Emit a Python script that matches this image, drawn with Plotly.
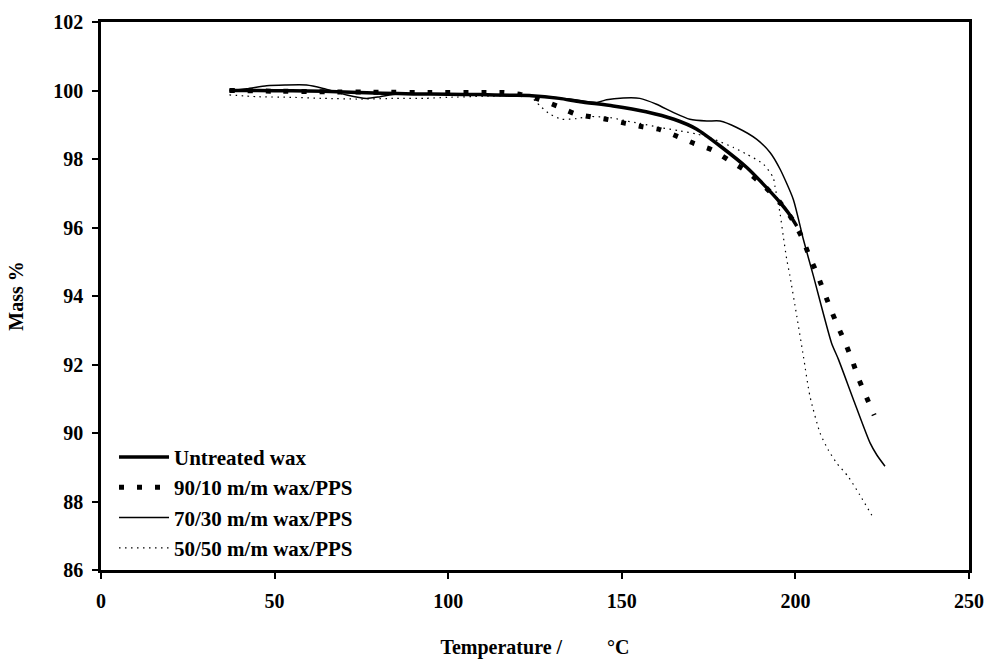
import plotly.graph_objects as go

# ---- data ----
untreated_t = [37, 45, 55, 64, 72, 81, 90, 100, 109, 118, 124, 132, 138, 147.5, 157, 165,
               171.6, 178.3, 186, 190.8, 195.6, 198, 200.4]
untreated_m = [100.0, 100.0, 99.99, 99.98, 99.95, 99.92, 99.9, 99.89, 99.88, 99.86, 99.85,
               99.77, 99.67, 99.55, 99.38, 99.16, 98.87, 98.38, 97.75, 97.26, 96.73, 96.42, 96.04]

w90_t = [37, 50, 65, 80, 95, 111, 116, 121, 126, 131.3, 136.3, 141.1, 146.1, 151.1, 156, 161,
         166, 170.9, 175.9, 180.9, 185.8, 190.8, 195.6, 199, 201.8, 204, 206.1, 210, 212.2,
         214.5, 216.5, 218.3, 220.5, 222.7]
w90_m = [100.0, 99.98, 99.96, 99.95, 99.94, 99.94, 99.94, 99.88, 99.75, 99.55, 99.33, 99.23,
         99.15, 99.04, 98.94, 98.86, 98.66, 98.45, 98.27, 97.96, 97.65, 97.23, 96.73, 96.25,
         95.73, 95.17, 94.68, 93.66, 93.12, 92.6, 92.08, 91.56, 91.04, 90.52]

w70_t = [37, 42, 47.7, 53, 59.2, 64, 70.8, 76.5, 80.4, 85.2, 95, 110, 125, 135, 142.8, 145.6,
         150.4, 155.2, 160, 164.8, 169.6, 174.5, 178.3, 183.1, 188.8, 192.7, 195.6, 199.4,
         202.3, 205.2, 210.4, 212.4, 216.7, 221.5, 223.5, 225.8]
w70_m = [100.0, 100.05, 100.14, 100.16, 100.16, 100.06, 99.87, 99.77, 99.82, 99.9, 99.9,
         99.88, 99.85, 99.75, 99.65, 99.73, 99.78, 99.77, 99.6, 99.36, 99.16, 99.11, 99.11,
         98.92, 98.58, 98.19, 97.7, 96.82, 95.65, 94.58, 92.63, 92.15, 90.98, 89.71, 89.35, 89.03]

w50_t = [37, 45, 55, 64, 75, 85, 93, 100, 110, 120, 123.6, 125, 126.9, 129.3, 132.7, 137,
         140.8, 146.6, 151.4, 155.2, 161, 166.8, 171.6, 176.4, 182.1, 186, 190.8, 193.6,
         194.1, 195.6, 196.5, 197.5, 198.4, 200.4, 202.3, 204.2, 207.1, 209.5, 211.9, 215.2,
         218.5, 222]
w50_m = [99.87, 99.82, 99.8, 99.77, 99.75, 99.77, 99.77, 99.8, 99.83, 99.85, 99.85, 99.7,
         99.51, 99.31, 99.16, 99.18, 99.24, 99.21, 99.11, 99.04, 98.92, 98.82, 98.73, 98.58,
         98.34, 98.14, 97.85, 97.46, 97.21, 96.4, 95.75, 95.07, 94.6, 93.41, 92.24, 91.07,
         90.0, 89.5, 89.12, 88.73, 88.2, 87.6]

series_names = ["Untreated wax", "90/10 m/m wax/PPS", "70/30 m/m wax/PPS", "50/50 m/m wax/PPS"]
x_ticks = [0, 50, 100, 150, 200, 250]
y_ticks = [86, 88, 90, 92, 94, 96, 98, 100, 102]

FONT = "Liberation Serif"

fig = go.Figure()
fig.add_trace(go.Scatter(x=untreated_t, y=untreated_m, mode="lines", name=series_names[0],
                         line=dict(color="black", width=3.5, shape="spline", smoothing=0.6)))
fig.add_trace(go.Scatter(x=w90_t, y=w90_m, mode="lines", name=series_names[1],
                         line=dict(color="black", width=5, dash="5px,13px", shape="spline", smoothing=0.6)))
fig.add_trace(go.Scatter(x=w70_t, y=w70_m, mode="lines", name=series_names[2],
                         line=dict(color="black", width=1.5, shape="spline", smoothing=0.6)))
fig.add_trace(go.Scatter(x=w50_t, y=w50_m, mode="lines", name=series_names[3],
                         line=dict(color="black", width=1.2, dash="1.5px,4.5px", shape="spline", smoothing=0.6)))

axis_common = dict(showline=True, linecolor="black", linewidth=2.5, mirror=True,
                   ticks="outside", ticklen=6, tickwidth=2, tickcolor="black",
                   showgrid=False, zeroline=False, automargin=False,
                   tickfont=dict(family=FONT, size=20, color="black", weight="bold"))

fig.update_xaxes(range=[0, 250], tickvals=x_ticks, ticktext=[str(v) for v in x_ticks],
                 ticklabelstandoff=5,
                 title=dict(text="Temperature /" + "\u00a0" * 9 + "°C", standoff=40,
                            font=dict(family=FONT, size=20, color="black", weight="bold")),
                 **axis_common)
fig.update_yaxes(range=[86, 102], tickvals=y_ticks, ticktext=[str(v) for v in y_ticks],
                 ticklabelstandoff=5,
                 title=dict(text="Mass %", standoff=25,
                            font=dict(family=FONT, size=20, color="black", weight="bold")),
                 **axis_common)

fig.update_layout(
    width=986, height=659,
    margin=dict(l=101, r=17, t=22, b=89),
    paper_bgcolor="white", plot_bgcolor="white",
    showlegend=True,
    legend=dict(x=0.015, y=0.243, xanchor="left", yanchor="top",
                bgcolor="rgba(0,0,0,0)", borderwidth=0,
                font=dict(family=FONT, size=21, color="black", weight="bold"),
                itemwidth=50, tracegroupgap=0),
)

fig.write_html("out.html", config={"displayModeBar": False},
               post_script="document.body.style.margin='0';document.body.style.overflow='hidden';")
